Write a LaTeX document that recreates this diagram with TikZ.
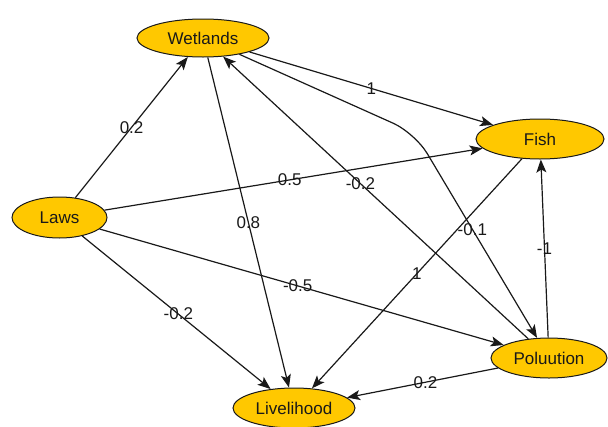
\documentclass[tikz,border=0pt]{standalone}
\usepackage{fontspec}
\setmainfont{Liberation Sans}
\usetikzlibrary{shapes.geometric,arrows.meta}
\definecolor{nodefill}{RGB}{255,200,0}
\definecolor{ink}{RGB}{25,25,25}
\begin{document}
\begin{tikzpicture}[x=1pt,y=-1pt,
  factor/.style={ellipse,draw=ink,line width=1pt,fill=nodefill,inner sep=0pt,
    text=ink,font=\fontsize{17}{20}\selectfont},
  link/.style={draw=ink,line width=1.2pt,-{Stealth[length=13pt,width=10pt,inset=3pt]}},
  weight/.style={text=ink,inner sep=0pt,font=\fontsize{17}{20}\selectfont}]
\useasboundingbox (0,0) rectangle (608,426);
% factors
\node[factor,minimum width=132pt,minimum height=38pt] (wet) at (203,38) {Wetlands};
\node[factor,minimum width=128pt,minimum height=40pt] (fish) at (540,139) {Fish};
\node[factor,minimum width=95pt,minimum height=41pt] (laws) at (59.5,217.5) {Laws};
\node[factor,minimum width=116pt,minimum height=40pt] (pol) at (549,358) {Poluution};
\node[factor,minimum width=122pt,minimum height=40pt] (live) at (294,408) {Livelihood};
\coordinate (bend) at (415,133);
% influences
\draw[link] (laws) -- node[weight,pos=0.5] (w1) {0.2} (wet);
\draw[link] (laws) -- node[weight,pos=0.49] (w2) {0.5} (fish);
\draw[link] (laws) -- node[weight,pos=0.49] (w3) {-0.5} (pol);
\draw[link] (laws) -- node[weight,pos=0.51] (w4) {-0.2} (live);
\draw[link] (wet) -- node[weight,pos=0.5] (w5) {1} (fish);
\draw[link] (wet) -- node[weight,pos=0.5] (w6) {0.8} (live);
\draw[link,rounded corners=24pt] (wet) -- (bend) -- node[weight,pos=0.47] (w7) {-0.1} (pol);
\draw[link] (pol) -- node[weight,pos=0.55] (w8) {-0.2} (wet);
\draw[link] (fish) -- node[weight,pos=0.5] (w9) {1} (live);
\draw[link] (pol) -- node[weight,pos=0.5] (w10) {-1} (fish);
\draw[link] (pol) -- node[weight,pos=0.48] (w11) {0.2} (live);
\end{tikzpicture}
\end{document}
